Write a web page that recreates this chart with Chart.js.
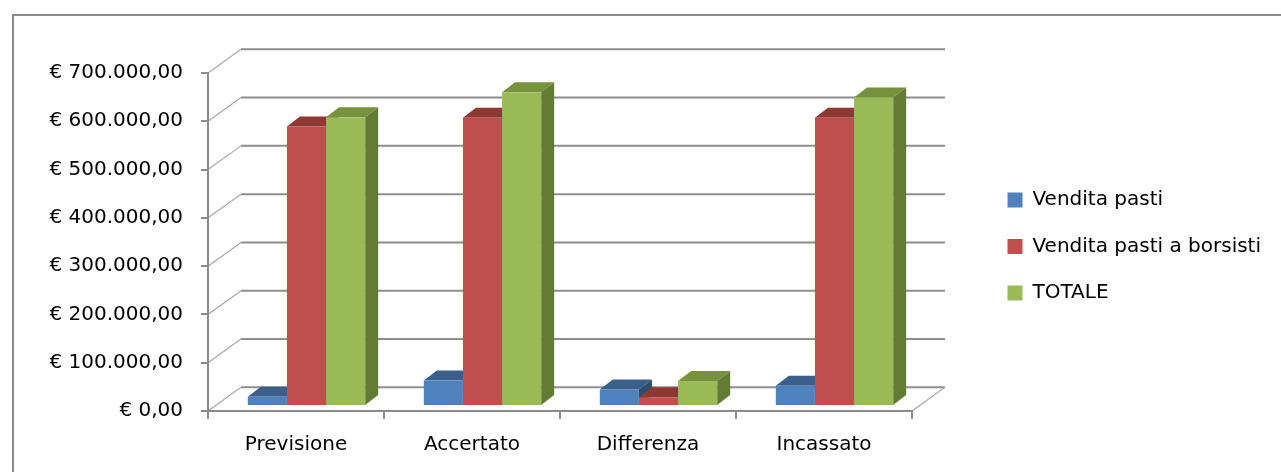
<!DOCTYPE html>
<html>
<head>
<meta charset="utf-8">
<script src="https://cdn.jsdelivr.net/npm/chart.js@4.4.1/dist/chart.umd.min.js"></script>
<style>
  html, body { margin: 0; padding: 0; background: #fff; }
</style>
</head>
<body>
<canvas id="chart" width="1281" height="472"></canvas>
<script>
const categories = ['Previsione', 'Accertato', 'Differenza', 'Incassato'];
const venditaPasti = [19000, 53000, 34000, 42000];
const venditaBorsisti = [579000, 597000, 18000, 597000];
const totale = [598000, 650000, 52000, 639000];
const seriesNames = ['Vendita pasti', 'Vendita pasti a borsisti', 'TOTALE'];

const fronts = ['#4F81BD', '#C0504D', '#9BBB59'];
const tops = ['#3A5F8B', '#8E3836', '#77923C'];
const sides = ['#2E4C70', '#7A2F2D', '#667A37'];

const font = { family: 'DejaVu Sans', size: 20 };
const gray = '#8a8a8a';

// € 700.000,00
function euro(v) {
  const s = String(Math.round(v)).replace(/\B(?=(\d{3})+(?!\d))/g, '.');
  return '€ ' + s + ',00';
}

// wall depth and bar depth, in pixels
const wallDx = 33, wallDy = -23.7;
const barDx = 13, barDy = -10;
const shiftX = 10.5, shiftY = -5;

const wall3d = {
  id: 'wall3d',
  beforeDraw(chart) {
    const ctx = chart.ctx;
    const area = chart.chartArea;
    const y = chart.scales.y;
    ctx.save();
    ctx.fillStyle = '#fff';
    ctx.fillRect(0, 0, chart.width, chart.height);
    ctx.strokeStyle = gray;
    ctx.lineWidth = 2;
    ctx.strokeRect(13, 15, chart.width + 20, chart.height + 20);

    y.ticks.forEach(t => {
      const yf = y.getPixelForValue(t.value);
      ctx.strokeStyle = '#a8a8a8';
      ctx.lineWidth = 1.2;
      ctx.beginPath();
      ctx.moveTo(area.left, yf);
      ctx.lineTo(area.left + wallDx, yf + wallDy);
      ctx.stroke();
      ctx.strokeStyle = '#8e8e8e';
      ctx.lineWidth = 2;
      ctx.beginPath();
      ctx.moveTo(area.left + wallDx, yf + wallDy);
      ctx.lineTo(area.right + wallDx, yf + wallDy);
      ctx.stroke();
    });
    // floor, right edge
    ctx.strokeStyle = '#a8a8a8';
    ctx.lineWidth = 1.2;
    ctx.beginPath();
    ctx.moveTo(area.right, area.bottom);
    ctx.lineTo(area.right + wallDx, area.bottom + wallDy);
    ctx.stroke();
    ctx.restore();
  },
  beforeDatasetsDraw(chart) {
    const ctx = chart.ctx;
    ctx.save();
    ctx.translate(shiftX, shiftY);
    chart.data.datasets.forEach((ds, di) => {
      const meta = chart.getDatasetMeta(di);
      meta.data.forEach(bar => {
        const l = bar.x - bar.width / 2;
        const r = bar.x + bar.width / 2;
        const top = bar.y, base = bar.base;
        ctx.fillStyle = tops[di];
        ctx.beginPath();
        ctx.moveTo(l, top);
        ctx.lineTo(l + barDx, top + barDy);
        ctx.lineTo(r + barDx, top + barDy);
        ctx.lineTo(r, top);
        ctx.closePath();
        ctx.fill();
        ctx.fillStyle = sides[di];
        ctx.beginPath();
        ctx.moveTo(r, top);
        ctx.lineTo(r + barDx, top + barDy);
        ctx.lineTo(r + barDx, base + barDy);
        ctx.lineTo(r, base);
        ctx.closePath();
        ctx.fill();
      });
    });
  },
  afterDatasetsDraw(chart) {
    chart.ctx.restore();
  }
};

const seriesData = [venditaPasti, venditaBorsisti, totale];

new Chart(document.getElementById('chart'), {
  type: 'bar',
  data: {
    labels: categories,
    datasets: seriesNames.map((name, i) => ({
      label: name,
      data: seriesData[i],
      backgroundColor: fronts[i],
      borderWidth: 0,
      barPercentage: 1,
      categoryPercentage: 0.667,
      clip: false,
      yAxisID: 'y'
    }))
  },
  options: {
    responsive: false,
    animation: false,
    devicePixelRatio: 1,
    layout: { padding: { top: 73, bottom: 0, left: 0, right: 10 } },
    plugins: {
      tooltip: { enabled: false },
      legend: {
        position: 'right',
        fullSize: false,
        maxWidth: 400,
        title: { display: true, text: '', font: { size: 5 }, padding: 1.5 },
        labels: {
          boxWidth: 15,
          boxHeight: 15,
          padding: 26.5,
          color: '#000',
          font: font
        }
      }
    },
    scales: {
      x: {
        grid: { offset: true, drawOnChartArea: false, tickLength: 8, color: gray, lineWidth: 2 },
        border: { color: gray, width: 2 },
        ticks: { color: '#000', font: font, padding: 14 },
        afterFit: s => { s.height = 61; }
      },
      y: {
        min: 0,
        max: 700000,
        ticks: { stepSize: 100000, callback: v => euro(v), color: '#000', font: font, padding: 18 },
        grid: { drawOnChartArea: false, tickLength: 7, color: gray, lineWidth: 2 },
        border: { color: gray, width: 2 },
        afterFit: s => { s.width = 208; }
      },
      gap: {
        position: 'right',
        grid: { display: false },
        ticks: { display: false },
        border: { display: false },
        afterFit: s => { s.width = 69; }
      }
    }
  },
  plugins: [wall3d]
});
</script>
</body>
</html>
